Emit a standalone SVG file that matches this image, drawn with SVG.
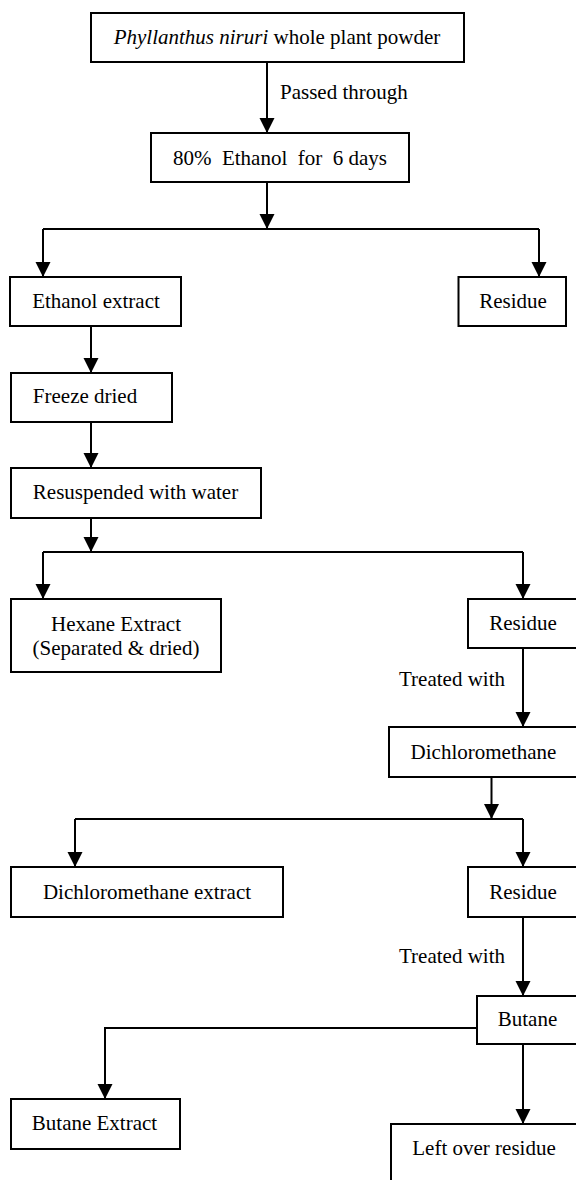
<svg xmlns="http://www.w3.org/2000/svg" width="576" height="1180" viewBox="0 0 576 1180">
<style>
.box{fill:#fff;stroke:#000;stroke-width:2}
.t{font-family:'Liberation Serif','DejaVu Serif',serif;font-size:21px;fill:#000;text-anchor:middle;white-space:pre}
.l{font-family:'Liberation Serif','DejaVu Serif',serif;font-size:21px;fill:#000;white-space:pre}
.c{fill:none;stroke:#000;stroke-width:2}
.a{marker-end:url(#ah)}
</style>
<defs>
<marker id="ah" markerUnits="userSpaceOnUse" markerWidth="16" markerHeight="16" refX="15" refY="7.5" orient="auto">
<path d="M0,0 L15,7.5 L0,15 z" fill="#000"/>
</marker>
</defs>
<rect width="576" height="1180" fill="#fff"/>
<g id="connectors">
<path class="c a" d="M267,62 V133"/>
<path class="c a" d="M267,182 V229"/>
<path class="c" d="M43,229 H539"/>
<path class="c a" d="M43,229 V277"/>
<path class="c a" d="M539,229 V277"/>
<path class="c a" d="M91,326 V373"/>
<path class="c a" d="M91,422 V468"/>
<path class="c a" d="M91,518 V552"/>
<path class="c" d="M43,552 H523"/>
<path class="c a" d="M43,552 V599"/>
<path class="c a" d="M523,552 V599"/>
<path class="c a" d="M523,648 V727"/>
<path class="c a" d="M491.5,777 V819"/>
<path class="c" d="M75,819 H523"/>
<path class="c a" d="M75,819 V867"/>
<path class="c a" d="M523,819 V867"/>
<path class="c a" d="M523,917 V996"/>
<path class="c a" d="M477,1028 H105 V1099"/>
<path class="c a" d="M523,1044 V1124"/>
<text class="l" x="280" y="99" font-family="Liberation Serif, serif">Passed through</text>
<text class="l" x="399" y="686" font-family="Liberation Serif, serif">Treated with</text>
<text class="l" x="399" y="963" font-family="Liberation Serif, serif">Treated with</text>
</g>
<g id="n-powder">
<rect class="box" x="91" y="13" width="373" height="49"/>
<text class="t" x="277" y="44"><tspan font-style="italic">Phyllanthus niruri</tspan> whole plant powder</text>
</g>
<g id="n-ethanol80">
<rect class="box" x="151" y="133" width="258" height="49"/>
<text class="t" x="280" y="165">80%  Ethanol  for  6 days</text>
</g>
<g id="n-ethanol-extract">
<rect class="box" x="10" y="277" width="171" height="49"/>
<text class="t" x="96" y="308">Ethanol extract</text>
</g>
<g id="n-residue1">
<rect class="box" x="458.5" y="277" width="107.5" height="49"/>
<text class="t" x="513" y="308">Residue</text>
</g>
<g id="n-freeze">
<rect class="box" x="11" y="373" width="161" height="49"/>
<text class="t" x="85" y="403">Freeze dried</text>
</g>
<g id="n-resuspended">
<rect class="box" x="11" y="468" width="250" height="50"/>
<text class="t" x="135.5" y="499">Resuspended with water</text>
</g>
<g id="n-hexane">
<rect class="box" x="11" y="599" width="210" height="73"/>
<text class="t" x="116" y="631">Hexane Extract</text>
<text class="t" x="116" y="655">(Separated &amp; dried)</text>
</g>
<g id="n-residue2">
<rect class="box" x="468" y="599" width="120" height="49"/>
<text class="t" x="523" y="630">Residue</text>
</g>
<g id="n-dcm">
<rect class="box" x="389" y="727" width="200" height="50"/>
<text class="t" x="483.5" y="759">Dichloromethane</text>
</g>
<g id="n-dcm-extract">
<rect class="box" x="11" y="867" width="272" height="50"/>
<text class="t" x="147" y="899">Dichloromethane extract</text>
</g>
<g id="n-residue3">
<rect class="box" x="468" y="867" width="120" height="50"/>
<text class="t" x="523" y="899">Residue</text>
</g>
<g id="n-butane">
<rect class="box" x="477" y="996" width="120" height="48"/>
<text class="t" x="527.5" y="1026">Butane</text>
</g>
<g id="n-butane-extract">
<rect class="box" x="11" y="1099" width="169" height="50"/>
<text class="t" x="94.5" y="1130">Butane Extract</text>
</g>
<g id="n-leftover">
<rect class="box" x="391" y="1124" width="200" height="80"/>
<text class="t" x="484" y="1155">Left over residue</text>
</g>
</svg>
